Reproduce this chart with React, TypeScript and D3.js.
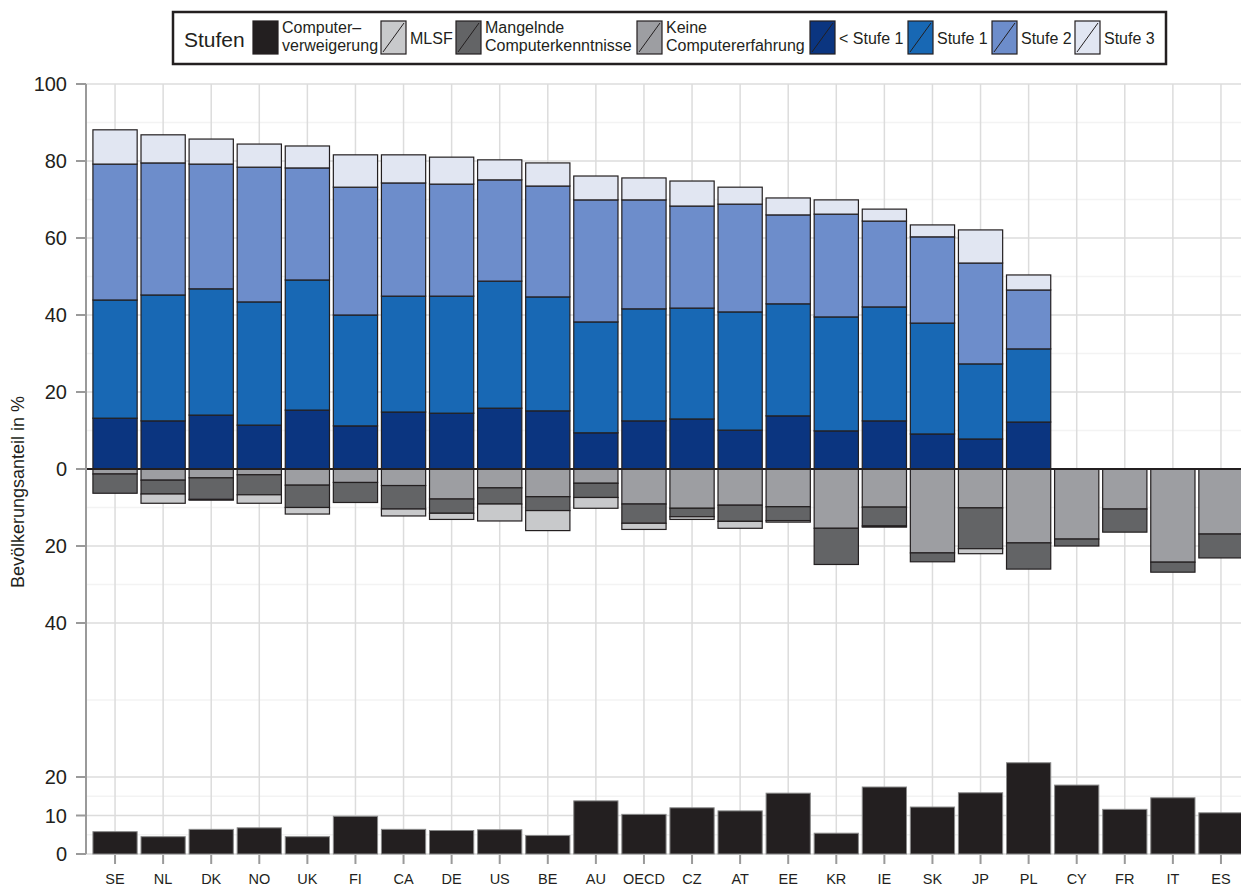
import React, { useEffect, useRef } from "react";
import * as d3 from "d3";

const countries = ["SE", "NL", "DK", "NO", "UK", "FI", "CA", "DE", "US", "BE", "AU", "OECD", "CZ", "AT", "EE", "KR", "IE", "SK", "JP", "PL", "CY", "FR", "IT", "ES"];

// positive stack (proficiency levels)
const belowLevel1 = [13.2, 12.5, 14.0, 11.4, 15.3, 11.2, 14.8, 14.5, 15.8, 15.1, 9.4, 12.5, 13.0, 10.1, 13.8, 9.9, 12.5, 9.1, 7.8, 12.2, 0, 0, 0, 0];
const level1 = [30.7, 32.7, 32.8, 32.0, 33.8, 28.8, 30.1, 30.4, 33.0, 29.6, 28.8, 29.1, 28.8, 30.7, 29.1, 29.6, 29.6, 28.8, 19.5, 19.0, 0, 0, 0, 0];
const level2 = [35.3, 34.3, 32.4, 35.0, 29.1, 33.2, 29.4, 29.1, 26.3, 28.8, 31.7, 28.3, 26.5, 28.0, 23.1, 26.7, 22.3, 22.4, 26.2, 15.3, 0, 0, 0, 0];
const level3 = [8.9, 7.3, 6.5, 6.0, 5.7, 8.4, 7.3, 7.0, 5.2, 6.0, 6.2, 5.7, 6.5, 4.4, 4.4, 3.7, 3.1, 3.1, 8.6, 3.9, 0, 0, 0, 0];

// negative stack (no score)
const noExperience = [1.3, 2.9, 2.3, 1.5, 4.2, 3.5, 4.3, 7.8, 4.9, 7.2, 3.7, 9.1, 10.2, 9.4, 9.8, 15.4, 9.9, 21.8, 10.1, 19.2, 18.2, 10.4, 24.2, 16.9];
const lackSkills = [5.0, 3.6, 5.6, 5.2, 5.8, 5.2, 6.1, 3.7, 4.2, 3.6, 3.7, 5.0, 2.2, 4.2, 3.6, 9.4, 4.9, 2.3, 10.6, 6.8, 1.8, 6.0, 2.6, 6.2];
const failedCore = [0, 2.4, 0.2, 2.2, 1.7, 0, 1.8, 1.6, 4.4, 5.2, 2.8, 1.6, 0.7, 1.8, 0.4, 0, 0.3, 0, 1.3, 0, 0, 0, 0, 0];

// lower panel
const refused = [5.8, 4.5, 6.4, 6.8, 4.5, 9.8, 6.4, 6.1, 6.3, 4.8, 13.8, 10.3, 12.0, 11.2, 15.8, 5.4, 17.4, 12.2, 15.9, 23.7, 17.9, 11.6, 14.6, 10.7];

const yTicks = [100, 80, 60, 40, 20, 0, -20, -40, -80, -90, -100];
const majorGrid = [100, 80, 60, 40, 20, 0, -20, -40, -80, -90, -100];
const minorGrid = [90, 70, 50, 30, 10, -10, -30, -60, -85, -95];

const legendItems = [
  { lines: ["Computer–", "verweigerung"], color: "#231f20", x: 253 },
  { lines: ["MLSF"], color: "#c8c9cb", x: 381 },
  { lines: ["Mangelnde", "Computerkenntnisse"], color: "#636466", x: 456 },
  { lines: ["Keine", "Computererfahrung"], color: "#9d9ea2", x: 637 },
  { lines: ["< Stufe 1"], color: "#0b3580", x: 810 },
  { lines: ["Stufe 1"], color: "#1868b4", x: 908 },
  { lines: ["Stufe 2"], color: "#6d8dcb", x: 992 },
  { lines: ["Stufe 3"], color: "#e1e6f2", x: 1075 },
];

const FONT = "'Liberation Sans', Arial, Helvetica, sans-serif";

export default function App() {
  const ref = useRef<SVGSVGElement>(null);

  useEffect(() => {
    if (!ref.current) return;
    const svg = d3.select(ref.current);
    svg.selectAll("*").remove();

    const x = d3.scaleBand<string>().domain(countries).range([91, 1245]).paddingInner(0.08).paddingOuter(0.04);
    const y = d3.scaleLinear().domain([-100, 100]).range([854, 84]);
    const cx = (c: string) => (x(c) as number) + x.bandwidth() / 2;

    // grid
    const g = svg.append("g");
    g.selectAll(".minor").data(minorGrid).enter().append("line")
      .attr("x1", 86).attr("x2", 1241).attr("y1", (d) => y(d)).attr("y2", (d) => y(d))
      .attr("stroke", "#f3f3f3").attr("stroke-width", 1.5);
    g.selectAll(".major").data(majorGrid).enter().append("line")
      .attr("x1", 86).attr("x2", 1241).attr("y1", (d) => y(d)).attr("y2", (d) => y(d))
      .attr("stroke", "#dcdcdc").attr("stroke-width", 1.5);
    g.selectAll(".vgrid").data(countries).enter().append("line")
      .attr("x1", (d) => cx(d)).attr("x2", (d) => cx(d)).attr("y1", y(100)).attr("y2", y(-100))
      .attr("stroke", "#dcdcdc").attr("stroke-width", 1.5);

    // stacked bars
    const drawStack = (series: { vals: number[]; color: string }[], sign: number) => {
      const cum = countries.map(() => 0);
      series.forEach((s) => {
        svg.append("g").selectAll("rect").data(countries).enter().append("rect")
          .each(function (c, i) {
            const v = s.vals[i];
            if (v <= 0) return;
            const a = cum[i];
            const b = a + v;
            cum[i] = b;
            d3.select(this)
              .attr("x", x(c) as number)
              .attr("width", x.bandwidth())
              .attr("y", sign > 0 ? y(b) : y(-a))
              .attr("height", Math.abs(y(a) - y(b)))
              .attr("fill", s.color)
              .attr("stroke", "#231f20")
              .attr("stroke-width", 1.2);
          });
      });
    };
    drawStack([
      { vals: belowLevel1, color: "#0b3580" },
      { vals: level1, color: "#1868b4" },
      { vals: level2, color: "#6d8dcb" },
      { vals: level3, color: "#e1e6f2" },
    ], 1);
    drawStack([
      { vals: noExperience, color: "#9d9ea2" },
      { vals: lackSkills, color: "#636466" },
      { vals: failedCore, color: "#c8c9cb" },
    ], -1);

    // lower panel bars
    svg.append("g").selectAll("rect").data(countries).enter().append("rect")
      .attr("x", (d) => x(d) as number)
      .attr("width", x.bandwidth())
      .attr("y", (d, i) => y(-100 + refused[i]))
      .attr("height", (d, i) => y(-100) - y(-100 + refused[i]))
      .attr("fill", "#231f20")
      .attr("stroke", "#8a8a8a")
      .attr("stroke-width", 1);

    // zero line
    svg.append("line").attr("x1", 86).attr("x2", 1241).attr("y1", y(0)).attr("y2", y(0))
      .attr("stroke", "#231f20").attr("stroke-width", 2);

    // y axis
    svg.append("line").attr("x1", 86).attr("x2", 86).attr("y1", y(100)).attr("y2", y(-100))
      .attr("stroke", "#9a9a9a").attr("stroke-width", 2);
    const yt = svg.append("g").selectAll("g").data(yTicks).enter().append("g");
    yt.append("line").attr("x1", 76).attr("x2", 86).attr("y1", (d) => y(d)).attr("y2", (d) => y(d))
      .attr("stroke", "#9a9a9a").attr("stroke-width", 2);
    yt.append("text").attr("x", 67).attr("y", (d) => y(d)).attr("dy", "0.35em")
      .attr("text-anchor", "end").attr("font-family", FONT).attr("font-size", 20).attr("fill", "#231f20")
      .text((d) => (d < -60 ? String(d + 100) : String(Math.abs(d))));

    svg.append("text").attr("transform", `translate(24,492) rotate(-90)`)
      .attr("text-anchor", "middle").attr("font-family", FONT).attr("font-size", 18).attr("fill", "#231f20")
      .text("Bevölkerungsanteil in %");

    // x axis
    const xt = svg.append("g").selectAll("g").data(countries).enter().append("g");
    xt.append("line").attr("x1", (d) => cx(d)).attr("x2", (d) => cx(d)).attr("y1", 855).attr("y2", 864)
      .attr("stroke", "#9a9a9a").attr("stroke-width", 2);
    xt.append("text").attr("x", (d) => cx(d)).attr("y", 884).attr("text-anchor", "middle")
      .attr("font-family", FONT).attr("font-size", 14.5).attr("fill", "#231f20").text((d) => d);

    // legend
    const lg = svg.append("g");
    lg.append("rect").attr("x", 173).attr("y", 12).attr("width", 993).attr("height", 52)
      .attr("fill", "#fff").attr("stroke", "#231f20").attr("stroke-width", 2.5);
    lg.append("text").attr("x", 184).attr("y", 47).attr("font-family", FONT).attr("font-size", 21)
      .attr("fill", "#231f20").text("Stufen");
    legendItems.forEach((it) => {
      const sx = it.x;
      lg.append("rect").attr("x", sx).attr("y", 21).attr("width", 25).attr("height", 33)
        .attr("fill", it.color).attr("stroke", "#231f20").attr("stroke-width", 1.2);
      lg.append("line").attr("x1", sx + 2).attr("y1", 52).attr("x2", sx + 23).attr("y2", 23)
        .attr("stroke", "#231f20").attr("stroke-width", 1);
      if (it.lines.length === 1) {
        lg.append("text").attr("x", sx + 29).attr("y", 44).attr("font-family", FONT).attr("font-size", 16)
          .attr("fill", "#231f20").attr("textLength", null).text(it.lines[0]);
      } else {
        it.lines.forEach((t, j) => {
          lg.append("text").attr("x", sx + 29).attr("y", 33 + j * 18).attr("font-family", FONT).attr("font-size", 16)
            .attr("fill", "#231f20").text(t);
        });
      }
    });
  }, []);

  return (
    <div style={{ position: "absolute", left: 0, top: 0 }}>
      <svg ref={ref} width={1241} height={887} style={{ display: "block", background: "#fff" }} />
    </div>
  );
}
